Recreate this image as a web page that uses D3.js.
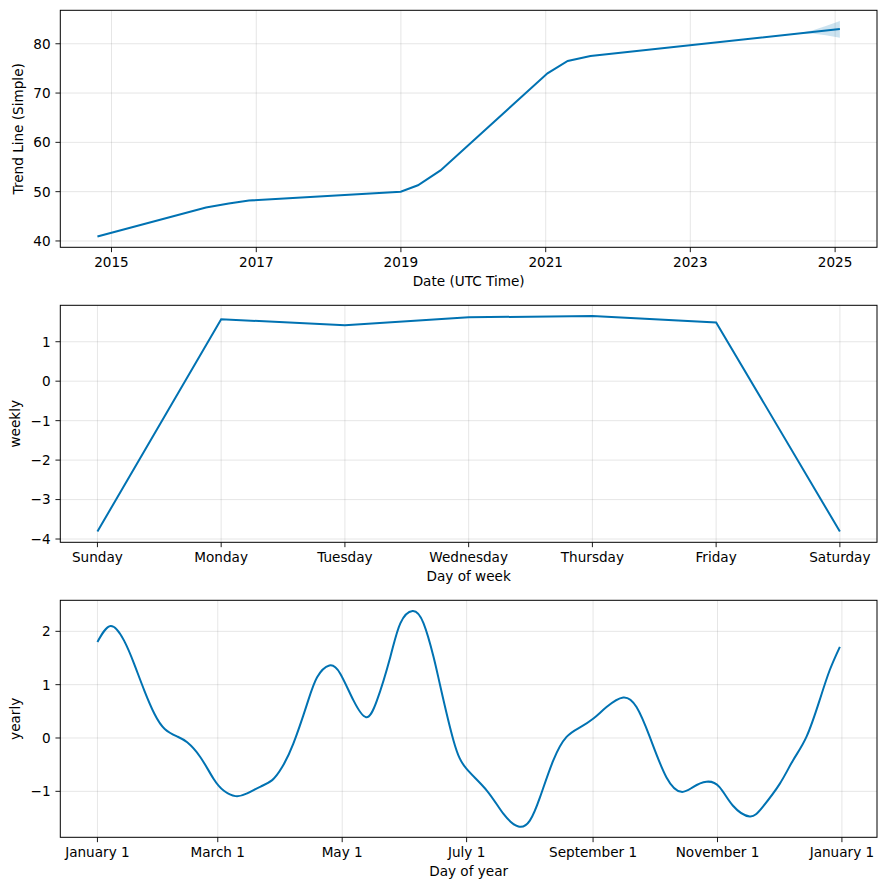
<!DOCTYPE html>
<html><head><meta charset="utf-8">
<script src="https://cdn.jsdelivr.net/npm/d3@7"></script>
<style>
body{margin:0;background:#fff}
text{font-family:"DejaVu Sans",sans-serif;fill:#000}
</style>
</head><body>
<svg id="chart" width="886" height="890"></svg>
<script>
// ---------- DATA ----------
const trendDates  = ["2014-10-22","2016-04-22","2016-08-15","2016-11-25","2018-12-31","2019-03-28","2019-07-20","2021-01-10","2021-04-22","2021-08-15","2025-01-25"];
const trendValues = [40.9, 46.8, 47.6, 48.2, 50.0, 51.3, 54.3, 74.0, 76.5, 77.5, 83.0];

const bandDates = ["2024-06-01","2024-07-15","2024-09-15","2024-11-15","2025-01-25"];
const bandLower = [81.94, 82.02, 82.05, 81.7, 81.2];
const bandUpper = [81.94, 82.25, 82.8, 83.6, 84.6];

const trendTicks = ["2015-01-01","2017-01-01","2019-01-01","2021-01-01","2023-01-01","2025-01-01"];

const weekDays = ["Sunday","Monday","Tuesday","Wednesday","Thursday","Friday","Saturday"];
const weeklyValues = [-3.81, 1.57, 1.42, 1.62, 1.65, 1.49, -3.81];

const yearlyDays = [0,6.5,13,18,23,28,33,39,44,50.5,57,62,67.7,73.4,80,85.7,90.5,96,102.8,107.7,113.7,119,125.6,131.7,137,143.6,148.5,154.5,159.9,164.8,168,174.6,181,191,199,206.4,212,217,223.5,230,236.6,243,249.6,257.8,264.3,270.8,279,286.3,292,298.6,305,311.6,319.8,326,334.5,341,347.6,354,359,364];
const yearlyValues = [1.80,2.10,1.83,1.39,0.89,0.45,0.17,0.03,-0.08,-0.36,-0.77,-0.99,-1.09,-1.04,-0.91,-0.79,-0.55,-0.11,0.64,1.14,1.36,1.21,0.70,0.39,0.70,1.52,2.15,2.38,2.15,1.52,0.99,-0.05,-0.58,-0.99,-1.42,-1.66,-1.55,-1.11,-0.42,0.02,0.20,0.36,0.58,0.76,0.58,0.02,-0.74,-1.01,-0.92,-0.82,-0.92,-1.27,-1.47,-1.30,-0.86,-0.42,0.02,0.70,1.27,1.71];
const yearlyTicks = ["2017-01-01","2017-03-01","2017-05-01","2017-07-01","2017-09-01","2017-11-01","2018-01-01"];

// ---------- LAYOUT ----------
const svg = d3.select("#chart");
const LEFT = 60.3, RIGHT = 877;
const panels = [{top:10.3,bottom:247.3},{top:305.3,bottom:542.3},{top:600.3,bottom:837.3}];
const COLOR = "#0072B2";
const FS = "13.6px";
const TICK = 4.86;
const parse = d3.utcParse("%Y-%m-%d");
const fmtNum = d => (d < 0 ? "\u2212" : "") + Math.abs(d);

function pad(ext){const a=+ext[0], b=+ext[1], r=b-a; return [a-0.05*r, b+0.05*r];}
function padDate(ext){return pad(ext).map(v=>new Date(v));}

function drawPanel(p, x, y, xTicks, xFmt, yTicks, xLabel, yLabel, yLabX){
  const g = svg.append("g");
  g.selectAll(".gx").data(xTicks).join("line")
    .attr("x1", d=>x(d)).attr("x2", d=>x(d)).attr("y1", p.top).attr("y2", p.bottom)
    .attr("stroke","gray").attr("stroke-opacity",0.2).attr("stroke-width",1);
  g.selectAll(".gy").data(yTicks).join("line")
    .attr("x1", LEFT).attr("x2", RIGHT).attr("y1", d=>y(d)).attr("y2", d=>y(d))
    .attr("stroke","gray").attr("stroke-opacity",0.2).attr("stroke-width",1);
  g.selectAll(".tx").data(xTicks).join("line")
    .attr("x1", d=>x(d)).attr("x2", d=>x(d)).attr("y1", p.bottom).attr("y2", p.bottom+TICK)
    .attr("stroke","#000").attr("stroke-width",0.9);
  g.selectAll(".tlx").data(xTicks).join("text")
    .attr("x", d=>x(d)).attr("y", p.bottom+19.4).attr("text-anchor","middle")
    .style("font-size",FS).text(xFmt);
  g.selectAll(".ty").data(yTicks).join("line")
    .attr("x1", LEFT-TICK).attr("x2", LEFT).attr("y1", d=>y(d)).attr("y2", d=>y(d))
    .attr("stroke","#000").attr("stroke-width",0.9);
  g.selectAll(".tly").data(yTicks).join("text")
    .attr("x", LEFT-TICK-4.86).attr("y", d=>y(d)).attr("dy","0.36em").attr("text-anchor","end")
    .style("font-size",FS).text(fmtNum);
  g.append("text").attr("x",(LEFT+RIGHT)/2).attr("y",p.bottom+38.8).attr("text-anchor","middle")
    .style("font-size",FS).text(xLabel);
  g.append("text").attr("transform",`translate(${yLabX},${(p.top+p.bottom)/2}) rotate(-90)`)
    .attr("text-anchor","middle").style("font-size",FS).text(yLabel);
  return g;
}
function frame(p){
  svg.append("rect").attr("x",LEFT).attr("y",p.top).attr("width",RIGHT-LEFT).attr("height",p.bottom-p.top)
    .attr("fill","none").attr("stroke","#000").attr("stroke-width",1);
}

// ---------- PANEL 1: trend ----------
{
  const p = panels[0];
  const td = trendDates.map(parse);
  const x = d3.scaleUtc().domain(padDate(d3.extent(td))).range([LEFT,RIGHT]);
  const allY = trendValues.concat(bandLower, bandUpper);
  const y = d3.scaleLinear().domain(pad(d3.extent(allY))).range([p.bottom,p.top]);
  const g = drawPanel(p, x, y, trendTicks.map(parse), d3.utcFormat("%Y"), [40,50,60,70,80],
    "Date (UTC Time)", "Trend Line (Simple)", 22.5);
  const band = bandDates.map((d,i)=>({d:parse(d), lo:bandLower[i], hi:bandUpper[i]}));
  g.append("path").datum(band)
    .attr("d", d3.area().x(d=>x(d.d)).y0(d=>y(d.lo)).y1(d=>y(d.hi)))
    .attr("fill",COLOR).attr("fill-opacity",0.2).attr("stroke","none");
  g.append("path").datum(td.map((d,i)=>[d,trendValues[i]]))
    .attr("d", d3.line().x(d=>x(d[0])).y(d=>y(d[1])))
    .attr("fill","none").attr("stroke",COLOR).attr("stroke-width",2);
  frame(p);
}

// ---------- PANEL 2: weekly ----------
{
  const p = panels[1];
  const x = d3.scaleLinear().domain(pad([0,weekDays.length-1])).range([LEFT,RIGHT]);
  const y = d3.scaleLinear().domain(pad(d3.extent(weeklyValues))).range([p.bottom,p.top]);
  const idx = d3.range(weekDays.length);
  const g = drawPanel(p, x, y, idx, i=>weekDays[i], [-4,-3,-2,-1,0,1], "Day of week", "weekly", 20);
  g.append("path").datum(idx.map(i=>[i,weeklyValues[i]]))
    .attr("d", d3.line().x(d=>x(d[0])).y(d=>y(d[1])))
    .attr("fill","none").attr("stroke",COLOR).attr("stroke-width",2);
  frame(p);
}

// ---------- PANEL 3: yearly ----------
{
  const p = panels[2];
  const base = Date.UTC(2017,0,1);
  const dd = yearlyDays.map(d=>new Date(base + d*864e5));
  const x = d3.scaleUtc().domain(padDate(d3.extent(dd))).range([LEFT,RIGHT]);
  const y = d3.scaleLinear().domain(pad(d3.extent(yearlyValues))).range([p.bottom,p.top]);
  const g = drawPanel(p, x, y, yearlyTicks.map(parse), d3.utcFormat("%B %-d"), [-1,0,1,2], "Day of year", "yearly", 20);
  g.append("path").datum(dd.map((d,i)=>[d,yearlyValues[i]]))
    .attr("d", d3.line().curve(d3.curveNatural).x(d=>x(d[0])).y(d=>y(d[1])))
    .attr("fill","none").attr("stroke",COLOR).attr("stroke-width",2);
  frame(p);
}
</script>
</body></html>
